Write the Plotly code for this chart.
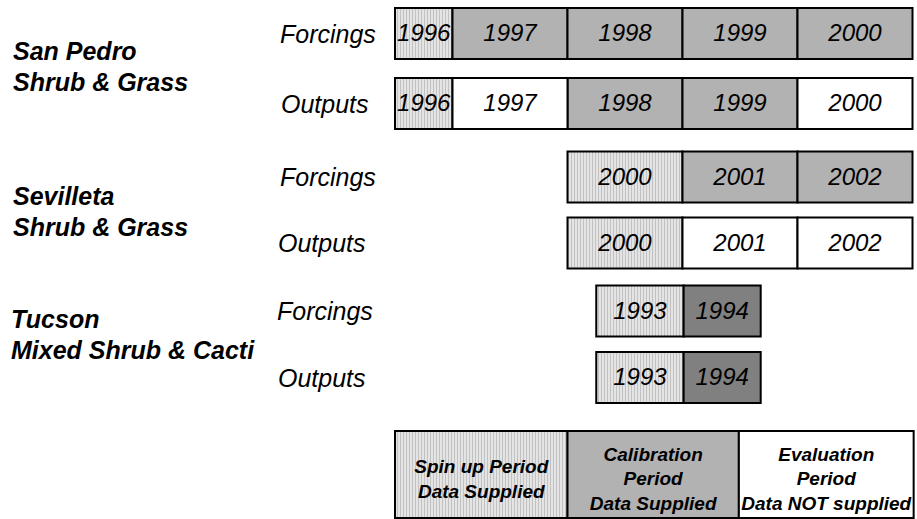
import plotly.graph_objects as go

# ---------------- data ----------------
site_labels = ["San Pedro<br>Shrub & Grass", "Sevilleta<br>Shrub & Grass", "Tucson<br>Mixed Shrub & Cacti"]
row_labels = ["Forcings", "Outputs", "Forcings", "Outputs", "Forcings", "Outputs"]
row_years = [
    [1996, 1997, 1998, 1999, 2000],
    [1996, 1997, 1998, 1999, 2000],
    [2000, 2001, 2002],
    [2000, 2001, 2002],
    [1993, 1994],
    [1993, 1994],
]
row_periods = [
    ["spin", "cal", "cal", "cal", "cal"],
    ["spin", "eval", "cal", "cal", "eval"],
    ["spin", "cal", "cal"],
    ["spin", "eval", "eval"],
    ["spin", "cal_dark"],
    ["spin", "cal_dark"],
]
# segment lengths (in years) and start offset of each row (years from the San Pedro start)
row_durations = [
    [0.5, 1.0, 1.0, 1.0, 1.0],
    [0.5, 1.0, 1.0, 1.0, 1.0],
    [1.0, 1.0, 1.0],
    [1.0, 1.0, 1.0],
    [0.76, 0.67],
    [0.76, 0.67],
]
row_offsets = [0.0, 0.0, 1.5, 1.5, 1.75, 1.75]

legend_periods = ["spin", "cal", "eval"]
legend_texts = ["Spin up Period<br>Data Supplied", "Calibration<br>Period<br>Data Supplied",
                "Evaluation<br>Period<br>Data NOT supplied"]
legend_widths = [1.5, 1.49, 1.52]

# ---------------- layout constants ----------------
W, H = 917, 519
ORIGIN_PX = 395       # pixel x of the first San Pedro year start
YEAR_PX = 115         # pixels per year
row_y = [33.5, 103.5, 177, 243, 311, 377.5]
bar_h = 51
year_text_dy = 1.5
legend_y = 474.5
legend_h = 87
legend_text_dy = 6
site_line1_y = [51, 196, 319]
site_line_pitch = 31
site_x = [11, 11, 9]
row_label_x = [278, 279, 278, 276, 275, 276]

FONT = "Arial, Liberation Sans, sans-serif"
period_style = {
    "spin": dict(color="#e4e4e4", pattern=dict(shape="|", bgcolor="#e8e8e8", fgcolor="#9c9c9c",
                                               size=3, solidity=0.4)),
    "cal": dict(color="#b2b2b2"),
    "cal_dark": dict(color="#808080"),
    "eval": dict(color="#ffffff"),
}

def x_range():
    return [-ORIGIN_PX / YEAR_PX, (W - ORIGIN_PX) / YEAR_PX]

def px2u(px):
    return (px - ORIGIN_PX) / YEAR_PX

fig = go.Figure()

bars = {k: dict(y=[], x=[], base=[], width=[]) for k in period_style}
text_x, text_y, text_t = [], [], []
for r, (years, periods, durs, off) in enumerate(zip(row_years, row_periods, row_durations, row_offsets)):
    start = off
    for yr, p, d in zip(years, periods, durs):
        b = bars[p]
        b["y"].append(row_y[r]); b["x"].append(d); b["base"].append(start); b["width"].append(bar_h)
        text_x.append(start + d / 2); text_y.append(row_y[r] + year_text_dy); text_t.append(str(yr))
        start += d

leg_x, leg_y, leg_t = [], [], []
start = 0.0
for p, t, w in zip(legend_periods, legend_texts, legend_widths):
    b = bars[p]
    b["y"].append(legend_y); b["x"].append(w); b["base"].append(start); b["width"].append(legend_h)
    leg_x.append(start + w / 2); leg_y.append(legend_y + legend_text_dy); leg_t.append(t)
    start += w

for p, b in bars.items():
    st = period_style[p]
    marker = dict(color=st["color"], line=dict(color="black", width=2))
    if "pattern" in st:
        marker["pattern"] = st["pattern"]
    fig.add_trace(go.Bar(orientation="h", y=b["y"], x=b["x"], base=b["base"], width=b["width"],
                         marker=marker, hoverinfo="skip", showlegend=False, cliponaxis=False))

fig.add_trace(go.Scatter(x=text_x, y=text_y, text=text_t, mode="text", textposition="middle center",
                         textfont=dict(family=FONT, size=24, color="black", style="italic"),
                         hoverinfo="skip", showlegend=False, cliponaxis=False))
fig.add_trace(go.Scatter(x=leg_x, y=leg_y, text=leg_t, mode="text", textposition="middle center",
                         textfont=dict(family=FONT, size=19, color="black", style="italic", weight="bold"),
                         hoverinfo="skip", showlegend=False, cliponaxis=False))

annotations = []
for lbl, y, x in zip(row_labels, row_y, row_label_x):
    annotations.append(dict(x=px2u(x), y=y, xref="x", yref="y", text=lbl, showarrow=False,
                            xanchor="left", yanchor="middle",
                            font=dict(family=FONT, size=25, color="black", style="italic")))
for lbl, y0, x in zip(site_labels, site_line1_y, site_x):
    for i, line in enumerate(lbl.split("<br>")):
        annotations.append(dict(x=px2u(x), y=y0 + i * site_line_pitch, xref="x", yref="y", text=line,
                                showarrow=False, xanchor="left", yanchor="middle", align="left",
                                font=dict(family=FONT, size=25, color="black", style="italic",
                                          weight="bold")))

fig.update_layout(
    width=W, height=H, margin=dict(l=0, r=0, t=0, b=0),
    paper_bgcolor="white", plot_bgcolor="white",
    barmode="overlay",
    xaxis=dict(range=x_range(), visible=False, fixedrange=True),
    yaxis=dict(range=[H, 0], visible=False, fixedrange=True),
    annotations=annotations,
)

fig.write_html(
    "out.html",
    config={"displayModeBar": False},
    post_script="document.body.style.margin='0';document.body.style.overflow='hidden';"
                "document.documentElement.style.overflow='hidden';",
)
